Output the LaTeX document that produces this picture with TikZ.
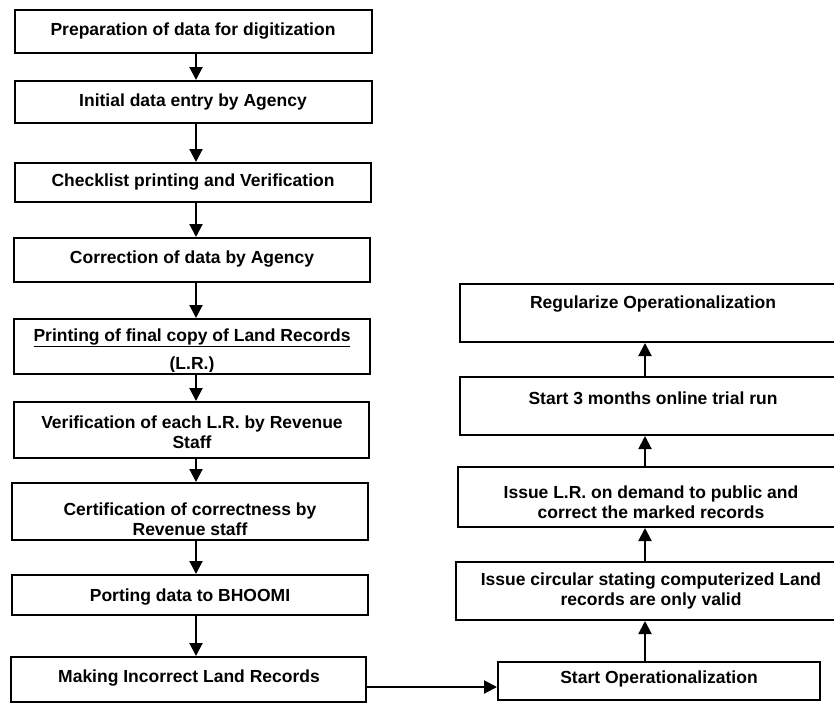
\documentclass[tikz,border=0pt]{standalone}
\usepackage{fontspec}
\setmainfont{Liberation Sans}
\usetikzlibrary{arrows.meta}
\begin{document}
\begin{tikzpicture}[x=1pt,y=-1pt,
  box/.style={draw=black, line width=2pt, rectangle, inner sep=0pt},
  txt/.style={inner sep=0pt, align=center, font=\fontsize{17.5}{19.5}\selectfont\bfseries},
  arr/.style={line width=2pt, -{Triangle[length=13pt,width=13pt]}}]
  % page
  \fill[white] (0,0) rectangle (834,704);
  \clip (0,0) rectangle (834,704);

  % left column: digitization steps
  \node[box, minimum width=357pt, minimum height=43pt] (b1) at (193.5,31.5) {};
  \node[box, minimum width=357pt, minimum height=42pt] (b2) at (193.5,102) {};
  \node[box, minimum width=356pt, minimum height=39pt] (b3) at (193,182.5) {};
  \node[box, minimum width=356pt, minimum height=44pt] (b4) at (192,260) {};
  \node[box, minimum width=356pt, minimum height=55pt] (b5) at (192,346.5) {};
  \node[box, minimum width=355pt, minimum height=56pt] (b6) at (191.5,430) {};
  \node[box, minimum width=356pt, minimum height=57pt] (b7) at (190,511.5) {};
  \node[box, minimum width=356pt, minimum height=40pt] (b8) at (190,595) {};
  \node[box, minimum width=355pt, minimum height=45pt] (b9) at (188.5,679.5) {};

  \node[txt] (t1) at (193,31) {Preparation of data for digitization};
  \node[txt] (t2) at (193,102) {Initial data entry by Agency};
  \node[txt] (t3) at (193,182) {Checklist printing and Verification};
  \node[txt] (t4) at (192,259) {Correction of data by Agency};
  \node[txt] (t5) at (192,338) {\underline{Printing of final copy of Land Records}};
  \begin{scope}
    \clip (14,330) rectangle (370,371);
    \node[txt] (t5b) at (192,365) {(L.R.)};
  \end{scope}
  \node[txt] (t6) at (192,432) {Verification of each L.R. by Revenue\\Staff};
  \node[txt] (t7) at (190,519) {Certification of correctness by\\Revenue staff};
  \node[txt] (t8) at (190,597) {Porting data to BHOOMI};
  \node[txt] (t9) at (189,678) {Making Incorrect Land Records};

  % right column: operationalization steps
  \node[box, minimum width=386pt, minimum height=58pt] (r5) at (653,313) {};
  \node[box, minimum width=386pt, minimum height=58pt] (r4) at (653,406) {};
  \node[box, minimum width=388pt, minimum height=60pt] (r3) at (652,497) {};
  \node[box, minimum width=390pt, minimum height=58pt] (r2) at (651,591) {};
  \node[box, minimum width=322pt, minimum height=38pt] (r1) at (659,681) {};

  \node[txt] (s5) at (653,304) {Regularize Operationalization};
  \node[txt] (s4) at (653,398) {Start 3 months online trial run};
  \node[txt] (s3) at (651,502) {Issue L.R. on demand to public and\\correct the marked records};
  \node[txt] (s2) at (651,591) {Issue circular stating computerized Land\\records are only valid};
  \node[txt] (s1) at (659,679) {Start Operationalization};

  % connectors
  \coordinate (lx) at (196,0);
  \coordinate (rx) at (645,0);
  \coordinate (hy) at (0,687);
  \foreach \a/\b in {b1/b2,b2/b3,b3/b4,b4/b5,b5/b6,b6/b7,b7/b8,b8/b9}
    \draw[arr] (\a.south -| lx) -- (\b.north -| lx);
  \foreach \a/\b in {r1/r2,r2/r3,r3/r4,r4/r5}
    \draw[arr] (\a.north -| rx) -- (\b.south -| rx);
  \draw[arr] (b9.east |- hy) -- (r1.west |- hy);
\end{tikzpicture}
\end{document}
